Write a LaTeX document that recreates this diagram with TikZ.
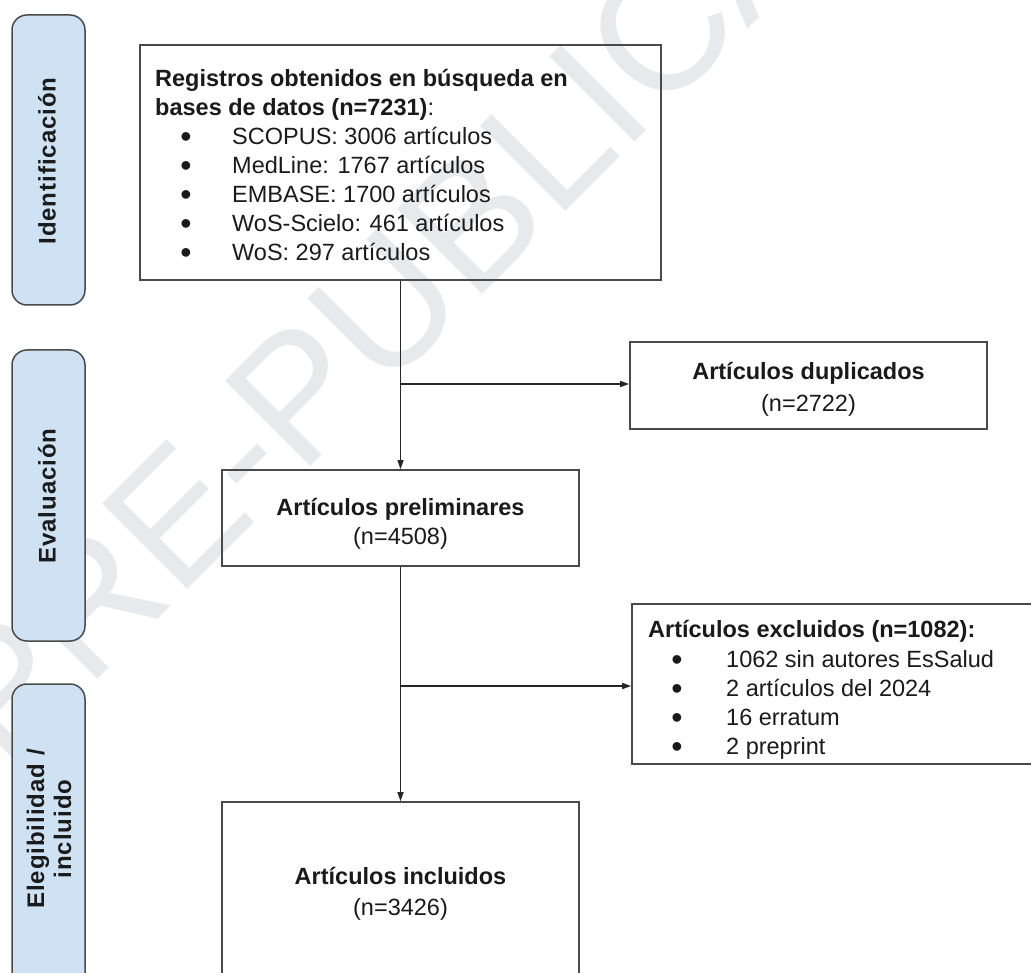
\documentclass[tikz,border=0pt]{standalone}
\usepackage{fontspec}
\setmainfont{Liberation Sans}
\newfontfamily\sidefont[LetterSpace=4]{Liberation Sans}
\usetikzlibrary{arrows.meta}
\definecolor{sidefill}{HTML}{CFE2F3}
\definecolor{wmgray}{HTML}{E8E9ED}
\definecolor{boxline}{HTML}{4A4A4A}
\definecolor{connline}{HTML}{262626}
\definecolor{textcol}{HTML}{1A1A1A}
\tikzset{
  flowbox/.style={draw=boxline, line width=1.6pt, inner sep=0pt, minimum width=#1},
  sidebox/.style={draw=boxline, fill=sidefill, line width=1.5pt, rounded corners=15pt},
  conn/.style={draw=connline, line width=1.3pt, -{Triangle[length=9pt,width=6pt]}},
  txt/.style={anchor=base west, inner sep=0pt, text=textcol, font=\fontsize{23.5}{29}\selectfont},
  ctxt/.style={anchor=base, inner sep=0pt, text=textcol, font=\fontsize{23.5}{29}\selectfont},
  bul/.style={anchor=base, inner sep=0pt, text=textcol, font=\fontsize{32}{29}\selectfont},
  sidelabel/.style={rotate=90, inner sep=0pt, align=center, text=textcol, font=\sidefont\bfseries\fontsize{24}{27}\selectfont},
  watermark/.style={rotate=45, anchor=base west, inner sep=0pt, text=wmgray, font=\fontsize{175}{175}\selectfont}
}
\begin{document}
\begin{tikzpicture}[x=1pt,y=-1pt]
\useasboundingbox (0,0) rectangle (1031,973);
% watermark
\node[watermark] (wm) at (5,772) {PRE-PUBLICATION};

% side phase boxes
\draw[sidebox] (12,15) rectangle (85,305);
\draw[sidebox] (12,350) rectangle (85,641);
\draw[sidebox] (12,684) rectangle (85,1010);
\node[sidelabel] (lab1) at (47,161) {Identificación};
\node[sidelabel] (lab2) at (47,496) {Evaluación};
\node[sidelabel] (lab3) at (49,829) {Elegibilidad /\\incluido};

% main boxes
\node[flowbox=521pt, minimum height=235pt] (top) at (400.5,162.5) {};
\node[flowbox=357pt, minimum height=87pt] (dup) at (808.5,385.5) {};
\node[flowbox=357pt, minimum height=96pt] (prelim) at (400.5,518) {};
\node[flowbox=428pt, minimum height=160pt] (excl) at (846,684) {};
\node[flowbox=357pt, minimum height=178pt] (incl) at (400.5,891) {};

% top box text
\node[txt] (t1) at (155,87) {\bfseries Registros obtenidos en búsqueda en};
\node[txt] (t2) at (155,116) {\textbf{bases de datos (n=7231)}:};
\foreach \i/\t in {0/{SCOPUS: 3006 artículos},1/{MedLine: 1767 artículos},2/{EMBASE: 1700 artículos},3/{WoS-Scielo: 461 artículos},4/{WoS: 297 artículos}}{
  \node[bul] (tb\i) at (186,{148+29*\i}) {\textbullet};
  \node[txt] (tt\i) at (232,{145+29*\i}) {\t};
}

% duplicados
\node[ctxt] (d1) at (808.5,380) {\bfseries Artículos duplicados};
\node[ctxt] (d2) at (808.5,412) {(n=2722)};

% preliminares
\node[ctxt] (p1) at (400.5,515) {\bfseries Artículos preliminares};
\node[ctxt] (p2) at (400.5,544) {(n=4508)};

% excluidos
\node[txt] (e0) at (648,637) {\bfseries Artículos excluidos (n=1082):};
\foreach \i/\t in {0/{1062 sin autores EsSalud},1/{2 artículos del 2024},2/{16 erratum},3/{2 preprint}}{
  \node[bul] (eb\i) at (677,{670+29*\i}) {\textbullet};
  \node[txt] (et\i) at (726,{667+29*\i}) {\t};
}

% incluidos
\node[ctxt] (i1) at (400.5,884) {\bfseries Artículos incluidos};
\node[ctxt] (i2) at (400.5,915) {(n=3426)};

% connectors
\coordinate (b1) at (400.5,384);
\coordinate (b2) at (400.5,686);
\draw[conn] (top.south) -- (prelim.north);
\draw[conn] (b1) -- (b1 -| dup.west);
\draw[conn] (prelim.south) -- (incl.north);
\draw[conn] (b2) -- (b2 -| excl.west);
\end{tikzpicture}
\end{document}
